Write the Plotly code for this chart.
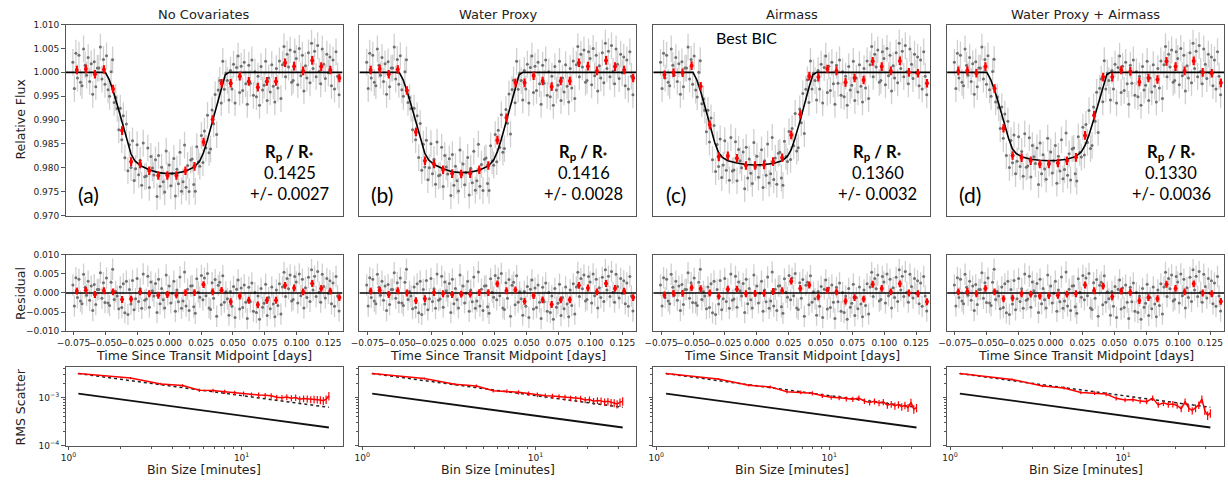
import numpy as np
import plotly.graph_objects as go

W, H = 1228, 489

titles = ["No Covariates", "Water Proxy", "Airmass", "Water Proxy + Airmass"]
labels = ["(a)", "(b)", "(c)", "(d)"]
rp_values = ["0.1425", "0.1416", "0.1360", "0.1330"]
rp_errors = ["+/- 0.0027", "+/- 0.0028", "+/- 0.0032", "+/- 0.0036"]

# unbinned observation times [days] and residuals [ppt] (shared by all fits)
gray_time = [
    -0.0755, -0.0743, -0.0731, -0.0719, -0.0707, -0.0695, -0.0683, -0.0671, -0.0659, -0.0647,
    -0.0635, -0.0623, -0.0611, -0.0599, -0.0587, -0.0575, -0.0563, -0.0551, -0.0539, -0.0527,
    -0.0515, -0.0503, -0.0491, -0.0479, -0.0467, -0.0455, -0.0443, -0.0431, -0.0419, -0.0407,
    -0.0395, -0.0383, -0.0371, -0.0359, -0.0347, -0.0335, -0.0323, -0.0311, -0.0299, -0.0287,
    -0.0275, -0.0263, -0.0251, -0.0239, -0.0227, -0.0215, -0.0203, -0.0191, -0.0179, -0.0167,
    -0.0155, -0.0143, -0.0131, -0.0119, -0.0107, -0.0095, -0.0083, -0.0071, -0.0059, -0.0047,
    -0.0035, -0.0023, -0.0011, 0.0001, 0.0013, 0.0025, 0.0037, 0.0049, 0.0061, 0.0073,
    0.0085, 0.0097, 0.0109, 0.0121, 0.0133, 0.0145, 0.0157, 0.0169, 0.0181, 0.0193,
    0.0205, 0.0217, 0.0229, 0.0241, 0.0253, 0.0265, 0.0277, 0.0289, 0.0301, 0.0313,
    0.0325, 0.0337, 0.0349, 0.0361, 0.0373, 0.0385, 0.0397, 0.0409, 0.0421, 0.0433,
    0.0445, 0.0457, 0.0469, 0.0481, 0.0493, 0.0505, 0.0517, 0.0529, 0.0541, 0.0553,
    0.0565, 0.0577, 0.0589, 0.0601, 0.0613, 0.0625, 0.0637, 0.0649, 0.0661, 0.0673,
    0.0685, 0.0697, 0.0709, 0.0721, 0.0733, 0.0745, 0.0757, 0.0769, 0.0781, 0.0793,
    0.0805, 0.0817, 0.0829, 0.0841, 0.0853, 0.0865, 0.0877, 0.0889, 0.0901, 0.0913,
    0.0925, 0.0937, 0.0949, 0.0961, 0.0973, 0.0985, 0.0997, 0.1009, 0.1021, 0.1033,
    0.1045, 0.1057, 0.1069, 0.1081, 0.1093, 0.1105, 0.1117, 0.1129, 0.1141, 0.1153,
    0.1165, 0.1177, 0.1189, 0.1201, 0.1213, 0.1225, 0.1237, 0.1249, 0.1261, 0.1273,
    0.1285, 0.1297, 0.1309, 0.1321, 0.1333,
]
gray_resid_ppt = [
    2.1, -3.4, 4.0, -1.2, 3.6, -2.1, -2.8, 4.9, 1.5, -0.6, 3.1, -1.9,
    1.8, -4.6, 2.2, -3.0, 0.9, 0.9, 5.3, -1.4, 2.7, -2.5, 3.9, -2.6,
    -3.3, 2.8, 6.2, -1.7, 0.4, -0.8, -4.1, 1.6, -3.8, 2.4, -5.2, 3.1,
    -5.6, 0.9, -2.9, 3.3, -4.4, -1.5, 3.8, -2.2, 1.1, -4.0, 5.0, -1.9,
    -1.6, 4.4, -3.7, 2.9, 0.6, -0.8, 2.5, -5.1, 3.6, -2.8, 1.2, -1.8,
    -3.9, 4.7, -0.5, 1.8, -2.6, -0.1, 3.1, -4.8, 0.8, -2.3, 4.2, -4.0,
    -2.1, 5.5, -3.4, 1.0, -4.6, 1.8, 1.9, -3.6, -5.3, 3.7, 0.2, -1.1,
    4.6, -1.8, 3.9, -0.7, 5.1, -3.9, -4.3, 2.7, -1.4, 3.5, -6.1, 2.0,
    2.8, -3.1, 4.5, -2.4, 0.3, -1.5, -5.8, 0.4, -3.5, 1.7, -6.4, 1.0,
    3.4, -4.2, 1.3, -3.8, 2.1, -2.4, -6.7, 1.5, -2.3, 2.6, -4.8, 0.1,
    -5.1, -0.8, -6.9, 1.2, -3.7, -2.7, 2.3, -5.9, -1.2, -4.1, 1.6, -2.9,
    -6.2, 0.8, -3.3, 2.4, -5.5, 1.6, 5.4, -0.9, 3.8, 1.1, 4.7, -2.1,
    -1.7, 4.3, 2.9, -2.6, 5.0, -0.7, 3.6, -3.9, 1.4, -1.2, 4.1, -2.2,
    6.1, 0.8, 4.4, -0.9, 5.6, 0.2, -2.4, 4.9, 1.7, -1.3, 3.8, -0.1,
    3.2, -2.8, 2.6, -3.5, 4.3, -0.8, -4.7,
]
gray_err = 0.0028

# binned (red) points
red_time = [
    -0.0724, -0.0653, -0.0582, -0.0511, -0.0440, -0.0369, -0.0298, -0.0227, -0.0156, -0.0085,
    -0.0014, 0.0057, 0.0128, 0.0199, 0.0270, 0.0341, 0.0412, 0.0483, 0.0554, 0.0625,
    0.0696, 0.0767, 0.0838, 0.0909, 0.0980, 0.1051, 0.1122, 0.1193, 0.1264, 0.1335,
]
red_flux = [
    [1.0005, 1.0007, 0.9996, 1.0006, 0.9965, 0.9878, 0.9813, 0.9808, 0.9794, 0.9784,
     0.9784, 0.9784, 0.9794, 0.9803, 0.9854, 0.9901, 0.9977, 0.9977, 0.9992, 0.9981,
     0.9969, 0.9981, 0.9981, 1.0020, 1.0013, 1.0003, 1.0025, 1.0012, 1.0005, 0.9988],
    [1.0005, 1.0007, 0.9996, 1.0006, 0.9962, 0.9875, 0.9815, 0.9808, 0.9796, 0.9788,
     0.9787, 0.9788, 0.9796, 0.9805, 0.9858, 0.9905, 0.9978, 0.9978, 0.9993, 0.9982,
     0.9970, 0.9982, 0.9982, 1.0020, 1.0013, 1.0003, 1.0025, 1.0012, 1.0005, 0.9988],
    [0.9995, 0.9999, 0.9999, 1.0014, 0.9971, 0.9890, 0.9823, 0.9825, 0.9820, 0.9805,
     0.9805, 0.9806, 0.9813, 0.9821, 0.9869, 0.9912, 0.9992, 0.9990, 1.0007, 1.0003,
     0.9979, 0.9988, 0.9984, 1.0023, 1.0012, 1.0003, 1.0024, 1.0000, 0.9998, 0.9977],
    [1.0003, 1.0004, 0.9998, 1.0012, 0.9966, 0.9883, 0.9826, 0.9821, 0.9815, 0.9808,
     0.9808, 0.9810, 0.9815, 0.9822, 0.9868, 0.9910, 0.9990, 0.9990, 1.0005, 1.0002,
     0.9980, 0.9988, 0.9985, 1.0023, 1.0012, 1.0003, 1.0024, 1.0000, 0.9998, 0.9978],
]
red_err = 0.0009

# transit model nodes
model_time = [-0.0812, -0.0500, -0.0470, -0.0440, -0.0400, -0.0369, -0.0330, -0.0300, -0.0270,
              -0.0227, -0.0156, -0.0085, -0.0014, 0.0057, 0.0128, 0.0199, 0.0240, 0.0270,
              0.0300, 0.0341, 0.0380, 0.0412, 0.0440, 0.0470, 0.1360]
model_flux = [
    [1.0, 1.0, 0.9985, 0.9962, 0.9926, 0.9895, 0.9856, 0.9830, 0.9815, 0.9805, 0.9796, 0.9790,
     0.9788, 0.9789, 0.9793, 0.9802, 0.9814, 0.9832, 0.9858, 0.9898, 0.9938, 0.9970, 0.9995, 1.0, 1.0],
    [1.0, 1.0, 0.9985, 0.9962, 0.9926, 0.9895, 0.9857, 0.9831, 0.9817, 0.9807, 0.9798, 0.9792,
     0.9790, 0.9791, 0.9795, 0.9804, 0.9816, 0.9834, 0.9859, 0.9899, 0.9939, 0.9970, 0.9995, 1.0, 1.0],
    [1.0, 1.0, 0.9984, 0.9960, 0.9922, 0.9890, 0.9853, 0.9832, 0.9822, 0.9815, 0.9810, 0.9807,
     0.9806, 0.9807, 0.9809, 0.9815, 0.9824, 0.9838, 0.9862, 0.9900, 0.9940, 0.9971, 0.9995, 1.0, 1.0],
    [1.0, 1.0, 0.9985, 0.9963, 0.9928, 0.9898, 0.9862, 0.9840, 0.9830, 0.9823, 0.9818, 0.9816,
     0.9815, 0.9816, 0.9818, 0.9824, 0.9833, 0.9847, 0.9868, 0.9904, 0.9942, 0.9972, 0.9995, 1.0, 1.0],
]

# RMS vs bin size
bin_size = [1.14, 2.28, 3.42, 4.56, 5.70, 6.84, 7.98, 9.12, 10.26, 11.40, 12.54, 13.68, 14.82, 15.96,
            17.10, 18.24, 19.38, 20.52, 21.66, 22.80, 23.94, 25.08, 26.22, 27.36, 28.50, 29.64, 30.78, 31.92]
rms_ppt = [
    [3.18, 2.56, 1.93, 1.79, 1.43, 1.41, 1.33, 1.27, 1.21, 1.15, 1.14, 1.12, 1.10, 1.02,
     1.00, 1.03, 0.98, 1.01, 0.93, 0.96, 0.95, 0.92, 0.93, 0.92, 0.90, 0.87, 0.93, 1.10],
    [3.18, 2.52, 1.90, 1.75, 1.40, 1.37, 1.30, 1.22, 1.15, 1.10, 1.08, 1.05, 1.02, 0.97,
     0.95, 0.96, 0.90, 0.92, 0.85, 0.88, 0.86, 0.82, 0.84, 0.80, 0.78, 0.74, 0.80, 0.85],
    [3.18, 2.45, 1.82, 1.68, 1.33, 1.30, 1.24, 1.10, 1.02, 1.00, 0.95, 0.93, 0.98, 0.85,
     0.80, 0.84, 0.78, 0.82, 0.70, 0.74, 0.68, 0.72, 0.65, 0.70, 0.62, 0.80, 0.58, 0.62],
    [3.18, 2.40, 1.76, 1.60, 1.28, 1.25, 1.19, 0.97, 0.90, 0.92, 0.85, 0.83, 0.98, 0.71,
     0.78, 0.72, 0.74, 0.69, 0.59, 0.83, 0.61, 0.54, 0.61, 0.71, 0.94, 0.54, 0.43, 0.48],
]
rms_err_frac = [0.03, 0.05, 0.06, 0.07, 0.08, 0.09, 0.10, 0.10, 0.11, 0.11, 0.12, 0.12, 0.13, 0.13,
                0.14, 0.14, 0.15, 0.15, 0.16, 0.16, 0.17, 0.17, 0.18, 0.18, 0.19, 0.19, 0.20, 0.20]
expected_bins = [1.14, 31.92]
expected_rms_ppt = [[3.18, 0.63], [3.18, 0.63], [3.18, 0.63], [3.18, 0.63]]
photon_rms_ppt = [1.22, 0.24]

# ---------------- layout geometry (pixels) ----------------
col_left = [57, 353, 649, 945]
col_w = 279
rows_px = [(20, 215), (255, 333), (370, 450)]


def xdom(c):
    return [col_left[c] / W, (col_left[c] + col_w) / W]


def ydom(r):
    t, b = rows_px[r]
    return [1 - b / H, 1 - t / H]


def ann(text, px, py, size, family="DejaVu Sans", angle=0, color="#222"):
    return dict(text=text, x=px / W, y=1 - py / H, xref="paper", yref="paper", xanchor="center",
                yanchor="middle", showarrow=False, textangle=angle,
                font=dict(family=family, size=size, color=color))


fig = go.Figure()
tickfont = dict(family="DejaVu Sans", size=9, color="#222")
axis_common = dict(showline=True, linecolor="#555", linewidth=1, mirror=True, showgrid=False,
                   zeroline=False, ticks="outside", ticklen=3.5, tickcolor="#555", tickfont=tickfont,
                   tickangle=0)

layout = {}
annotations = []

gt = np.array(gray_time)
gr = np.array(gray_resid_ppt) / 1000.0

for c in range(4):
    idx = [3 * c + 1, 3 * c + 2, 3 * c + 3]
    mt = np.array(model_time)
    mf = np.array(model_flux[c])
    gflux = np.interp(gt, mt, mf) + gr
    rf = np.array(red_flux[c])
    rres = rf - np.interp(np.array(red_time), mt, mf)

    # ---- top: light curve
    xa, ya = f"x{idx[0]}", f"y{idx[0]}"
    fig.add_trace(go.Scatter(x=gt, y=gflux, mode="markers", xaxis=xa, yaxis=ya,
                             marker=dict(color="#707070", size=3),
                             error_y=dict(type="constant", value=gray_err, color="#d0d0d0", thickness=1.3, width=0),
                             showlegend=False))
    fig.add_trace(go.Scatter(x=mt, y=mf, mode="lines", xaxis=xa, yaxis=ya,
                             line=dict(color="black", width=1.6), showlegend=False))
    fig.add_trace(go.Scatter(x=red_time, y=rf, mode="markers", xaxis=xa, yaxis=ya,
                             marker=dict(color="red", size=4),
                             error_y=dict(type="constant", value=red_err, color="red", thickness=2.2, width=0),
                             showlegend=False))
    # ---- middle: residual
    xa2, ya2 = f"x{idx[1]}", f"y{idx[1]}"
    fig.add_trace(go.Scatter(x=gt, y=gr, mode="markers", xaxis=xa2, yaxis=ya2,
                             marker=dict(color="#707070", size=3),
                             error_y=dict(type="constant", value=gray_err, color="#d0d0d0", thickness=1.3, width=0),
                             showlegend=False))
    fig.add_trace(go.Scatter(x=[model_time[0], model_time[-1]], y=[0, 0], mode="lines", xaxis=xa2, yaxis=ya2,
                             line=dict(color="black", width=1.6), showlegend=False))
    fig.add_trace(go.Scatter(x=red_time, y=rres, mode="markers", xaxis=xa2, yaxis=ya2,
                             marker=dict(color="red", size=4),
                             error_y=dict(type="constant", value=red_err, color="red", thickness=2.2, width=0),
                             showlegend=False))
    # ---- bottom: RMS
    xa3, ya3 = f"x{idx[2]}", f"y{idx[2]}"
    rv = np.array(rms_ppt[c]) / 1000.0
    fig.add_trace(go.Scatter(x=expected_bins, y=np.array(expected_rms_ppt[c]) / 1000.0, mode="lines",
                             xaxis=xa3, yaxis=ya3, line=dict(color="#222", width=1.5, dash="dot"), showlegend=False))
    fig.add_trace(go.Scatter(x=expected_bins, y=np.array(photon_rms_ppt) / 1000.0, mode="lines",
                             xaxis=xa3, yaxis=ya3, line=dict(color="#111", width=1.8), showlegend=False))
    fig.add_trace(go.Scatter(x=bin_size, y=rv, mode="lines", xaxis=xa3, yaxis=ya3,
                             line=dict(color="red", width=1.5),
                             error_y=dict(type="data", array=rv * np.array(rms_err_frac), color="red",
                                          thickness=1.2, width=0),
                             showlegend=False))

    # axes
    lin_x = dict(axis_common, domain=xdom(c), range=[-0.0812, 0.1360],
                 tickvals=[-0.075, -0.05, -0.025, 0, 0.025, 0.05, 0.075, 0.1, 0.125])
    layout[f"xaxis{idx[0]}"] = dict(lin_x, anchor=ya, showticklabels=False, ticks="")
    layout[f"yaxis{idx[0]}"] = dict(axis_common, domain=ydom(0), anchor=xa, range=[0.970, 1.010],
                                    tickvals=[0.970, 0.975, 0.980, 0.985, 0.990, 0.995, 1.000, 1.005, 1.010],
                                    ticktext=["0.970", "0.975", "0.980", "0.985", "0.990", "0.995", "1.000", "1.005", "1.010"],
                                    showticklabels=(c == 0), ticks="outside" if c == 0 else "")
    layout[f"xaxis{idx[1]}"] = dict(lin_x, anchor=ya2, ticklen=3,
                                    ticktext=["\u22120.075", "\u22120.050", "\u22120.025", "0.000", "0.025",
                                              "0.050", "0.075", "0.100", "0.125"])
    layout[f"yaxis{idx[1]}"] = dict(axis_common, domain=ydom(1), anchor=xa2, range=[-0.010, 0.010],
                                    tickvals=[-0.010, -0.005, 0, 0.005, 0.010],
                                    ticktext=["\u22120.010", "\u22120.005", "0.000", "0.005", "0.010"],
                                    showticklabels=(c == 0), ticks="outside" if c == 0 else "")
    layout[f"xaxis{idx[2]}"] = dict(axis_common, domain=xdom(c), anchor=ya3, type="log",
                                    range=[-0.017, 1.583], tickvals=[1, 10],
                                    ticktext=["10<sup>0</sup>", "10<sup>1</sup>"],
                                    minor=dict(ticks="outside", ticklen=2, tickcolor="#555",
                                               tickvals=[2, 3, 4, 5, 6, 7, 8, 9, 20, 30]))
    layout[f"yaxis{idx[2]}"] = dict(axis_common, domain=ydom(2), anchor=xa3, type="log",
                                    range=[-4.0, -2.37], tickvals=[1e-4, 1e-3],
                                    ticktext=["10<sup>\u22124</sup>", "10<sup>\u22123</sup>"],
                                    showticklabels=(c == 0),
                                    minor=dict(ticks="outside", ticklen=2, tickcolor="#555",
                                               tickvals=[2e-4, 3e-4, 4e-4, 5e-4, 6e-4, 7e-4, 8e-4, 9e-4,
                                                         2e-3, 3e-3, 4e-3]))

    cx = col_left[c] + col_w / 2
    annotations.append(ann(titles[c], cx, 10, 13))
    annotations.append(ann("Time Since Transit Midpoint [days]", cx, 358, 12.5))
    annotations.append(ann("Bin Size [minutes]", cx, 474, 12.5))
    annotations.append(ann(labels[c], col_left[c] + 23, 193, 21, "Lato", color="black"))
    rx = col_left[c] + 226
    annotations.append(ann("<b>R<sub>p</sub> / R<sub>*</sub></b>", rx, 151, 16.5, "Lato", color="black"))
    annotations.append(ann(rp_values[c], rx, 172, 16.5, "Lato", color="black"))
    annotations.append(ann(rp_errors[c], rx, 193, 16.5, "Lato", color="black"))

annotations.append(ann("Best BIC", 743, 33, 16, "Lato", color="black"))
for txt, yc in [("Relative Flux", 117), ("Residual", 294), ("RMS Scatter", 410)]:
    annotations.append(ann(txt, 12, yc, 12.5, angle=-90))

fig.update_layout(width=W, height=H, margin=dict(l=0, r=0, t=0, b=0), plot_bgcolor="white",
                  paper_bgcolor="white", annotations=annotations, **layout)
fig.write_html("out.html")
